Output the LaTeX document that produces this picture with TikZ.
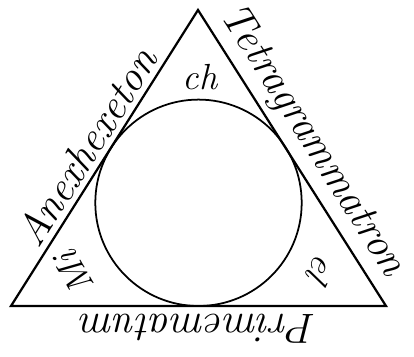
\documentclass[tikz,border=0pt]{standalone}
\usepackage{fontspec}
\usepackage{tikz}
\tikzset{
  tri/.style={draw=black, line width=1.9pt, line join=miter},
  incircle/.style={draw=black, line width=1.5pt},
  sidename/.style={font=\fontsize{36}{40}\selectfont\itshape, sloped, allow upside down, anchor=south, inner sep=5pt},
  cornername/.style={font=\fontsize{31}{34}\selectfont\itshape, inner sep=0pt},
}
\begin{document}
\begin{tikzpicture}[x=0.03cm, y=0.03cm]
\useasboundingbox (0,0) rectangle (414,356);
\coordinate (top) at (198,346);
\coordinate (left) at (11,50);
\coordinate (right) at (386,50);
\coordinate (mid) at (198.5,153.2);
\draw[tri] (top) -- (right) -- (left) -- cycle;
\draw[incircle] (mid) circle (103.2);
% names on the sides
\path (left) -- (top) node[sidename, pos=0.5] (anex) {Anexhexeton};
\path (top) -- (right) node[sidename, pos=0.49, inner sep=6pt] (tetra) {Tetragrammatron};
\path (right) -- (left) node[sidename, pos=0.5, inner sep=7pt] (prime) {Primematum};
% letters in the corners
\node[cornername] (ch) at (200,279) {ch};
\node[cornername, rotate=120] (mi) at (74,83) {Mi};
\node[cornername, rotate=-120] (el) at (322,86) {el};
\end{tikzpicture}
\end{document}
